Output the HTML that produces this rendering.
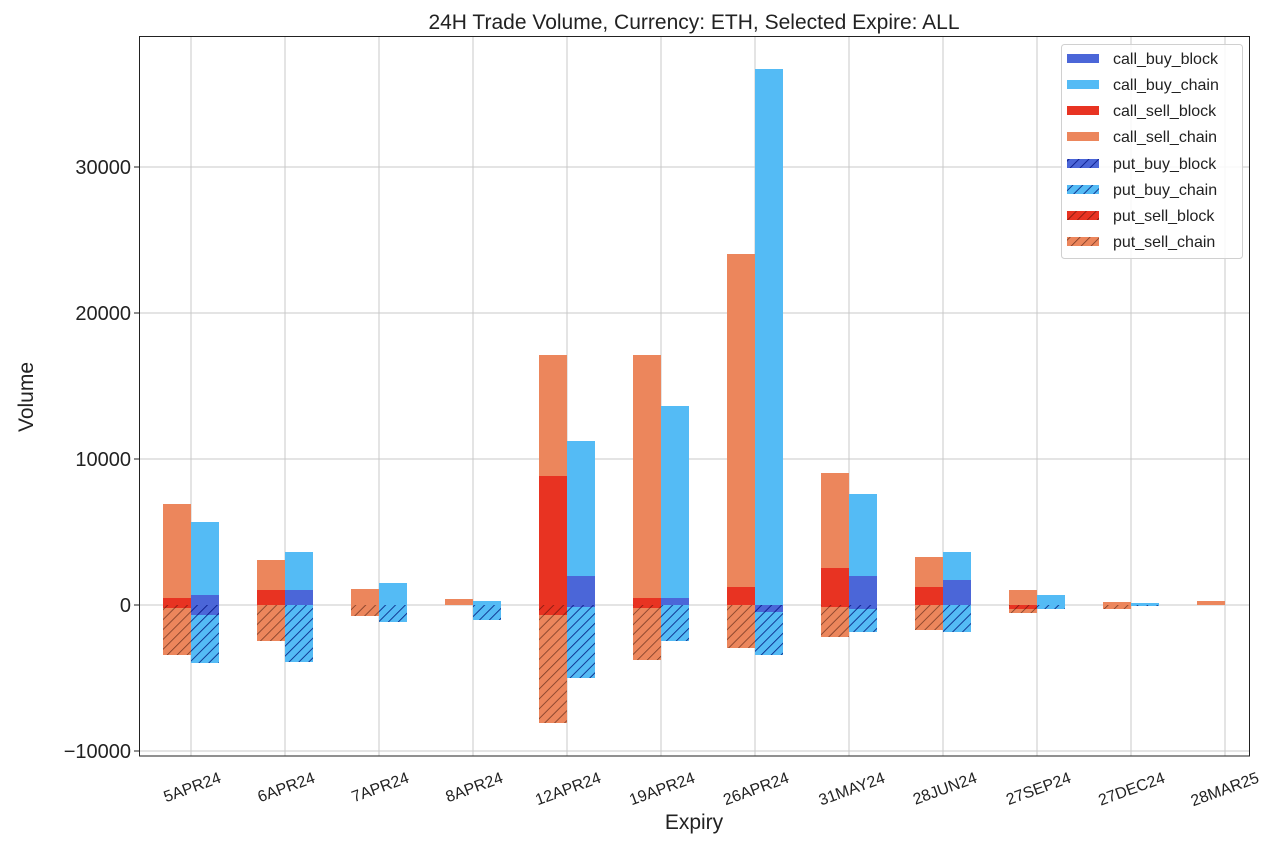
<!DOCTYPE html>
<html><head><meta charset="utf-8"><style>html,body{margin:0;padding:0;background:#fff}svg{display:block;font-family:"Liberation Sans","DejaVu Sans",sans-serif}</style></head><body>
<svg width="1280" height="864" viewBox="0 0 1280 864" xmlns="http://www.w3.org/2000/svg">
<defs>
<pattern id="hs" width="7" height="7" patternUnits="userSpaceOnUse" patternTransform="rotate(45)"><rect width="7" height="7" fill="#ec865c"/><line x1="0" y1="0" x2="0" y2="7" stroke="#7a3a25" stroke-width="1.6"/></pattern>
<pattern id="hsb" width="7" height="7" patternUnits="userSpaceOnUse" patternTransform="rotate(45)"><rect width="7" height="7" fill="#e83322"/><line x1="0" y1="0" x2="0" y2="7" stroke="#7a1a10" stroke-width="1.6"/></pattern>
<pattern id="hb" width="7" height="7" patternUnits="userSpaceOnUse" patternTransform="rotate(45)"><rect width="7" height="7" fill="#54bbf5"/><line x1="0" y1="0" x2="0" y2="7" stroke="#0a2a8a" stroke-width="1.8"/></pattern>
<pattern id="hbb" width="7" height="7" patternUnits="userSpaceOnUse" patternTransform="rotate(45)"><rect width="7" height="7" fill="#4b66d8"/><line x1="0" y1="0" x2="0" y2="7" stroke="#0a1a8a" stroke-width="1.8"/></pattern>
</defs>
<rect width="1280" height="864" fill="#fff"/>
<g stroke="#c8c8c8" stroke-width="1">
<line x1="191" y1="36" x2="191" y2="756"/><line x1="285" y1="36" x2="285" y2="756"/><line x1="379" y1="36" x2="379" y2="756"/><line x1="473" y1="36" x2="473" y2="756"/><line x1="567" y1="36" x2="567" y2="756"/><line x1="661" y1="36" x2="661" y2="756"/><line x1="755" y1="36" x2="755" y2="756"/><line x1="849" y1="36" x2="849" y2="756"/><line x1="943" y1="36" x2="943" y2="756"/><line x1="1037" y1="36" x2="1037" y2="756"/><line x1="1131" y1="36" x2="1131" y2="756"/><line x1="1225" y1="36" x2="1225" y2="756"/>
<line x1="139" y1="167" x2="1250" y2="167"/><line x1="139" y1="313" x2="1250" y2="313"/><line x1="139" y1="459" x2="1250" y2="459"/><line x1="139" y1="605" x2="1250" y2="605"/><line x1="139" y1="751" x2="1250" y2="751"/>
</g>
<g>
<rect x="163" y="504" width="28" height="101" fill="#ec865c"/><rect x="163" y="598" width="28" height="7" fill="#e83322"/>
<rect x="163" y="605" width="28" height="50" fill="url(#hs)"/><rect x="163" y="605" width="28" height="3" fill="url(#hsb)"/>
<rect x="191" y="522" width="28" height="83" fill="#54bbf5"/><rect x="191" y="595" width="28" height="10" fill="#4b66d8"/>
<rect x="191" y="605" width="28" height="58" fill="url(#hb)"/><rect x="191" y="605" width="28" height="10" fill="url(#hbb)"/>
<rect x="257" y="560" width="28" height="45" fill="#ec865c"/><rect x="257" y="590" width="28" height="15" fill="#e83322"/>
<rect x="257" y="605" width="28" height="36" fill="url(#hs)"/>
<rect x="285" y="552" width="28" height="53" fill="#54bbf5"/><rect x="285" y="590" width="28" height="15" fill="#4b66d8"/>
<rect x="285" y="605" width="28" height="57" fill="url(#hb)"/>
<rect x="351" y="589" width="28" height="16" fill="#ec865c"/><rect x="351" y="605" width="28" height="11" fill="url(#hs)"/>
<rect x="379" y="583" width="28" height="22" fill="#54bbf5"/><rect x="379" y="605" width="28" height="17" fill="url(#hb)"/>
<rect x="445" y="599" width="28" height="6" fill="#ec865c"/>
<rect x="473" y="601" width="28" height="4" fill="#54bbf5"/><rect x="473" y="605" width="28" height="15" fill="url(#hb)"/>
<rect x="539" y="355" width="28" height="250" fill="#ec865c"/><rect x="539" y="476" width="28" height="129" fill="#e83322"/>
<rect x="539" y="605" width="28" height="118" fill="url(#hs)"/><rect x="539" y="605" width="28" height="10" fill="url(#hsb)"/>
<rect x="567" y="441" width="28" height="164" fill="#54bbf5"/><rect x="567" y="576" width="28" height="29" fill="#4b66d8"/>
<rect x="567" y="605" width="28" height="73" fill="url(#hb)"/><rect x="567" y="605" width="28" height="2" fill="url(#hbb)"/>
<rect x="633" y="355" width="28" height="250" fill="#ec865c"/><rect x="633" y="598" width="28" height="7" fill="#e83322"/>
<rect x="633" y="605" width="28" height="55" fill="url(#hs)"/><rect x="633" y="605" width="28" height="3" fill="url(#hsb)"/>
<rect x="661" y="406" width="28" height="199" fill="#54bbf5"/><rect x="661" y="598" width="28" height="7" fill="#4b66d8"/>
<rect x="661" y="605" width="28" height="36" fill="url(#hb)"/>
<rect x="727" y="254" width="28" height="351" fill="#ec865c"/><rect x="727" y="587" width="28" height="18" fill="#e83322"/>
<rect x="727" y="605" width="28" height="43" fill="url(#hs)"/>
<rect x="755" y="69" width="28" height="536" fill="#54bbf5"/>
<rect x="755" y="605" width="28" height="50" fill="url(#hb)"/><rect x="755" y="605" width="28" height="7" fill="url(#hbb)"/>
<rect x="821" y="473" width="28" height="132" fill="#ec865c"/><rect x="821" y="568" width="28" height="37" fill="#e83322"/>
<rect x="821" y="605" width="28" height="32" fill="url(#hs)"/><rect x="821" y="605" width="28" height="2" fill="url(#hsb)"/>
<rect x="849" y="494" width="28" height="111" fill="#54bbf5"/><rect x="849" y="576" width="28" height="29" fill="#4b66d8"/>
<rect x="849" y="605" width="28" height="27" fill="url(#hb)"/><rect x="849" y="605" width="28" height="4" fill="url(#hbb)"/>
<rect x="915" y="557" width="28" height="48" fill="#ec865c"/><rect x="915" y="587" width="28" height="18" fill="#e83322"/>
<rect x="915" y="605" width="28" height="25" fill="url(#hs)"/>
<rect x="943" y="552" width="28" height="53" fill="#54bbf5"/><rect x="943" y="580" width="28" height="25" fill="#4b66d8"/>
<rect x="943" y="605" width="28" height="27" fill="url(#hb)"/>
<rect x="1009" y="590" width="28" height="15" fill="#ec865c"/>
<rect x="1009" y="605" width="28" height="8" fill="url(#hs)"/><rect x="1009" y="605" width="28" height="4" fill="url(#hsb)"/>
<rect x="1037" y="595" width="28" height="10" fill="#54bbf5"/><rect x="1037" y="605" width="28" height="4" fill="url(#hb)"/>
<rect x="1103" y="602" width="28" height="3" fill="#ec865c"/><rect x="1103" y="605" width="28" height="4" fill="url(#hs)"/>
<rect x="1131" y="603" width="28" height="2" fill="#54bbf5"/><rect x="1131" y="605" width="28" height="1" fill="url(#hb)"/>
<rect x="1197" y="601" width="28" height="4" fill="#ec865c"/>
</g>
<rect x="139.5" y="36.5" width="1110" height="719.5" fill="none" stroke="#222" stroke-width="1"/>
<g stroke="#222"><line x1="134" y1="167" x2="139" y2="167"/><line x1="134" y1="313" x2="139" y2="313"/><line x1="134" y1="459" x2="139" y2="459"/><line x1="134" y1="605" x2="139" y2="605"/><line x1="134" y1="751" x2="139" y2="751"/></g>
<g font-size="20" fill="#222" text-anchor="end">
<text x="131" y="174">30000</text><text x="131" y="320">20000</text><text x="131" y="466">10000</text><text x="131" y="612">0</text><text x="131" y="758">−10000</text>
</g>
<g font-size="16" fill="#222" text-anchor="end">
<text transform="translate(222,782) rotate(-20)">5APR24</text>
<text transform="translate(316,782) rotate(-20)">6APR24</text>
<text transform="translate(410,782) rotate(-20)">7APR24</text>
<text transform="translate(504,782) rotate(-20)">8APR24</text>
<text transform="translate(602,782) rotate(-20)">12APR24</text>
<text transform="translate(696,782) rotate(-20)">19APR24</text>
<text transform="translate(790,782) rotate(-20)">26APR24</text>
<text transform="translate(886,782) rotate(-20)">31MAY24</text>
<text transform="translate(978,782) rotate(-20)">28JUN24</text>
<text transform="translate(1072,782) rotate(-20)">27SEP24</text>
<text transform="translate(1166,782) rotate(-20)">27DEC24</text>
<text transform="translate(1260,782) rotate(-20)">28MAR25</text>
</g>
<text x="694" y="829" font-size="21" fill="#222" text-anchor="middle">Expiry</text>
<text transform="translate(33,397) rotate(-90)" font-size="21" fill="#222" text-anchor="middle">Volume</text>
<text x="694" y="29" font-size="21" fill="#222" text-anchor="middle">24H Trade Volume, Currency: ETH, Selected Expire: ALL</text>
<rect x="1061.5" y="44.5" width="181" height="214" rx="3" fill="#fff" fill-opacity="0.85" stroke="#d0d0d0"/>
<g>
<rect x="1067" y="54" width="32" height="9" fill="#4b66d8"/>
<rect x="1067" y="80" width="32" height="9" fill="#54bbf5"/>
<rect x="1067" y="106" width="32" height="9" fill="#e83322"/>
<rect x="1067" y="132" width="32" height="9" fill="#ec865c"/>
<rect x="1067" y="159" width="32" height="9" fill="url(#hbb)"/>
<rect x="1067" y="185" width="32" height="9" fill="url(#hb)"/>
<rect x="1067" y="211" width="32" height="9" fill="url(#hsb)"/>
<rect x="1067" y="237" width="32" height="9" fill="url(#hs)"/>
</g>
<g font-size="16" fill="#222">
<text x="1113" y="64">call_buy_block</text>
<text x="1113" y="90">call_buy_chain</text>
<text x="1113" y="116">call_sell_block</text>
<text x="1113" y="142">call_sell_chain</text>
<text x="1113" y="169">put_buy_block</text>
<text x="1113" y="195">put_buy_chain</text>
<text x="1113" y="221">put_sell_block</text>
<text x="1113" y="247">put_sell_chain</text>
</g>
</svg>
</body></html>
